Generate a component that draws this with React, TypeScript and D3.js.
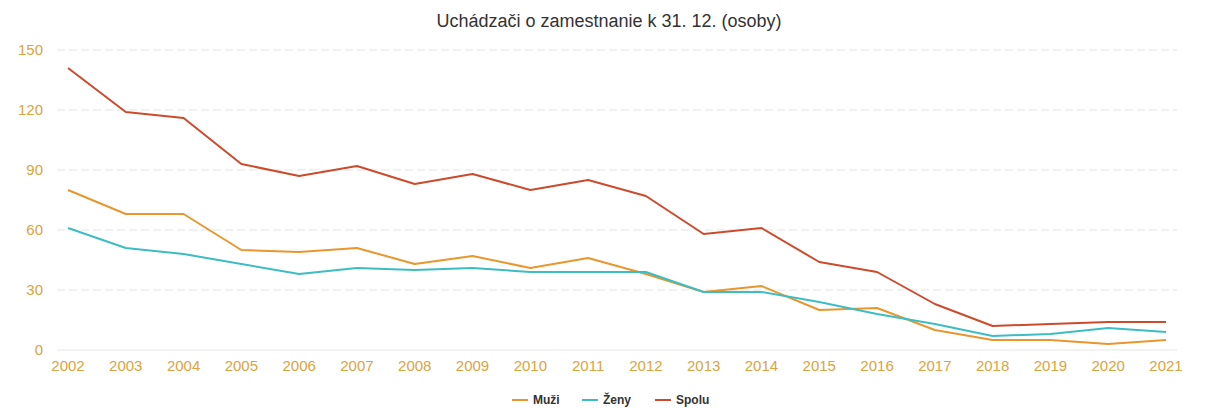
import React from "react";
import * as d3 from "d3";

const years = ["2002","2003","2004","2005","2006","2007","2008","2009","2010","2011","2012","2013","2014","2015","2016","2017","2018","2019","2020","2021"];
const muzi = [80, 68, 68, 50, 49, 51, 43, 47, 41, 46, 38, 29, 32, 20, 21, 10, 5, 5, 3, 5];
const zeny = [61, 51, 48, 43, 38, 41, 40, 41, 39, 39, 39, 29, 29, 24, 18, 13, 7, 8, 11, 9];
const spolu = [141, 119, 116, 93, 87, 92, 83, 88, 80, 85, 77, 58, 61, 44, 39, 23, 12, 13, 14, 14];
const yTicks = [0, 30, 60, 90, 120, 150];
const seriesNames = ["Muži", "Ženy", "Spolu"];
const seriesColors = ["#E8962E", "#3DBDC2", "#CC4B2C"];
const title = "Uchádzači o zamestnanie k 31. 12. (osoby)";

export default function App() {
  const W = 1206, H = 408;
  const x = d3.scalePoint<string>().domain(years).range([68, 1166]);
  const y = d3.scaleLinear().domain([0, 150]).range([350, 50]);
  const series = [muzi, zeny, spolu];
  const line = d3.line<number>().x((_, i) => x(years[i])!).y(d => y(d));
  const font = "'Liberation Sans', Arial, sans-serif";
  const legendX = [512, 582, 655];
  return (
    <svg width={W} height={H} style={{ position: "absolute", left: 0, top: 0, background: "#fff" }} fontFamily={font}>
      <text x={609} y={27} textAnchor="middle" fontSize={18} fill="#333">{title}</text>
      {yTicks.map(t => (
        <g key={t}>
          {t !== 0 && <line x1={57} x2={1177} y1={y(t)} y2={y(t)} stroke="#e3e3e3" strokeDasharray="8,4" strokeWidth={1} />}
          <text x={43} y={y(t)} dy="0.35em" textAnchor="end" fontSize={15} fill="#D9A441">{t}</text>
        </g>
      ))}
      <line x1={57} x2={1177} y1={y(0)} y2={y(0)} stroke="#e6e6e6" strokeWidth={1} />
      {years.map(yr => (
        <text key={yr} x={x(yr)} y={371} textAnchor="middle" fontSize={15} fill="#D9A441">{yr}</text>
      ))}
      {series.map((s, i) => (
        <path key={i} d={line(s)!} fill="none" stroke={seriesColors[i]} strokeWidth={2} strokeLinejoin="round" />
      ))}
      {seriesNames.map((n, i) => (
        <g key={n}>
          <line x1={legendX[i]} x2={legendX[i] + 16} y1={400} y2={400} stroke={seriesColors[i]} strokeWidth={2} />
          <text x={legendX[i] + 21} y={400} dy="0.35em" fontSize={12} fontWeight="bold" fill="#333">{n}</text>
        </g>
      ))}
    </svg>
  );
}
